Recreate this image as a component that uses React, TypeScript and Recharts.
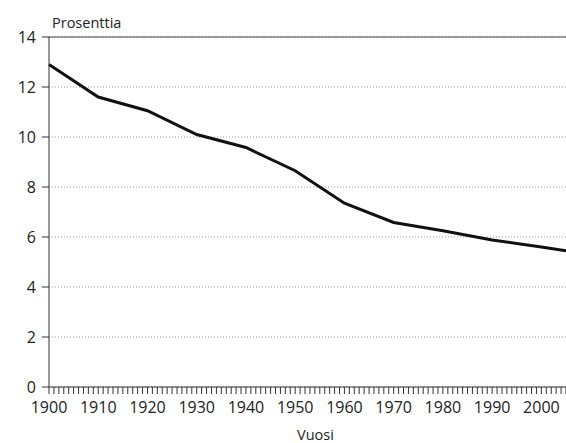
import { LineChart, Line, XAxis, YAxis, CartesianGrid, ReferenceLine, Label } from "recharts";

const years = [1900, 1910, 1920, 1930, 1940, 1950, 1960, 1970, 1980, 1990, 2000, 2005];
const shares = [12.9, 11.6, 11.05, 10.1, 9.58, 8.65, 7.35, 6.58, 6.25, 5.88, 5.6, 5.45];
const yTicks = [0, 2, 4, 6, 8, 10, 12, 14];
const xTicks = Array.from({ length: 106 }, (_, i) => 1900 + i);

const data = years.map((year, i) => ({ year, value: shares[i] }));

const font = "'Open Sans', sans-serif";

export default function App() {
  return (
    <div style={{ position: "relative", width: 566, height: 443, fontFamily: font }}>
      <style>{"body{margin:0}"}</style>
      <div style={{ position: "absolute", left: 52, top: 13, fontSize: 14.5, color: "#222" }}>Prosenttia</div>
      <LineChart width={566} height={443} data={data} margin={{ top: 37, right: 0, left: 0, bottom: 0 }}>
        <CartesianGrid vertical={false} stroke="#999" strokeDasharray="1 2" />
        <ReferenceLine y={14} stroke="#444" strokeWidth={1} />
        <XAxis
          dataKey="year"
          type="number"
          domain={[1900, 2005]}
          ticks={xTicks}
          interval={0}
          tickFormatter={(v: number) => (v % 10 === 0 ? String(v) : "")}
          tickSize={7}
          tickMargin={8}
          height={56}
          stroke="#333"
          tick={{ fontSize: 16, fill: "#222", fontFamily: font }}
        >
          <Label value="Vuosi" position="insideBottom" offset={3} dx={8} style={{ fontSize: 14.5, fill: "#222", fontFamily: font }} />
        </XAxis>
        <YAxis
          domain={[0, 14]}
          ticks={yTicks}
          width={49}
          tickSize={7}
          tickMargin={6}
          stroke="#333"
          tick={{ fontSize: 16, fill: "#222", fontFamily: font }}
        />
        <Line type="linear" dataKey="value" stroke="#111" strokeWidth={3} dot={false} isAnimationActive={false} />
      </LineChart>
    </div>
  );
}
